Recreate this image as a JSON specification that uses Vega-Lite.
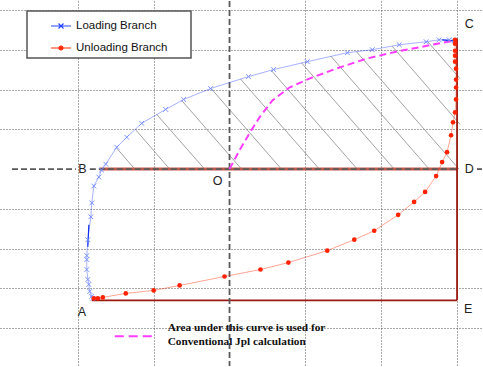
{
  "$schema": "https://vega.github.io/schema/vega-lite/v6.json",
  "width": 483,
  "height": 367,
  "autosize": {"type": "fit", "contains": "padding"},
  "padding": 0,
  "background": "#ffffff",
  "config": {"view": {"stroke": null}},
  "datasets": {
    "curves": [
      {"branch": "Loading Branch", "order": 1, "x": -1.803, "y": -3.25},
      {"branch": "Loading Branch", "order": 2, "x": -1.816, "y": -3.2},
      {"branch": "Loading Branch", "order": 3, "x": -1.842, "y": -3.075},
      {"branch": "Loading Branch", "order": 4, "x": -1.855, "y": -2.9},
      {"branch": "Loading Branch", "order": 5, "x": -1.868, "y": -2.775},
      {"branch": "Loading Branch", "order": 6, "x": -1.882, "y": -2.525},
      {"branch": "Loading Branch", "order": 7, "x": -1.882, "y": -2.275},
      {"branch": "Loading Branch", "order": 8, "x": -1.882, "y": -2.175},
      {"branch": "Loading Branch", "order": 9, "x": -1.868, "y": -1.775},
      {"branch": "Loading Branch", "order": 10, "x": -1.829, "y": -1.2},
      {"branch": "Loading Branch", "order": 11, "x": -1.816, "y": -0.85},
      {"branch": "Loading Branch", "order": 12, "x": -1.789, "y": -0.425},
      {"branch": "Loading Branch", "order": 13, "x": -1.724, "y": -0.2},
      {"branch": "Loading Branch", "order": 14, "x": -1.688, "y": -0.025},
      {"branch": "Loading Branch", "order": 15, "x": -1.632, "y": 0.125},
      {"branch": "Loading Branch", "order": 16, "x": -1.487, "y": 0.55},
      {"branch": "Loading Branch", "order": 17, "x": -1.355, "y": 0.8},
      {"branch": "Loading Branch", "order": 18, "x": -1.158, "y": 1.15},
      {"branch": "Loading Branch", "order": 19, "x": -0.842, "y": 1.5},
      {"branch": "Loading Branch", "order": 20, "x": -0.605, "y": 1.75},
      {"branch": "Loading Branch", "order": 21, "x": -0.25, "y": 2.025},
      {"branch": "Loading Branch", "order": 22, "x": 0.25, "y": 2.325},
      {"branch": "Loading Branch", "order": 23, "x": 0.579, "y": 2.5},
      {"branch": "Loading Branch", "order": 24, "x": 1.026, "y": 2.7},
      {"branch": "Loading Branch", "order": 25, "x": 1.553, "y": 2.925},
      {"branch": "Loading Branch", "order": 26, "x": 1.882, "y": 3.0},
      {"branch": "Loading Branch", "order": 27, "x": 2.237, "y": 3.125},
      {"branch": "Loading Branch", "order": 28, "x": 2.592, "y": 3.2},
      {"branch": "Loading Branch", "order": 29, "x": 2.763, "y": 3.25},
      {"branch": "Loading Branch", "order": 30, "x": 2.895, "y": 3.25},
      {"branch": "Loading Branch", "order": 31, "x": 2.96, "y": 3.225},
      {"branch": "Unloading Branch", "order": 1, "x": 2.974, "y": 3.25},
      {"branch": "Unloading Branch", "order": 2, "x": 2.974, "y": 3.15},
      {"branch": "Unloading Branch", "order": 3, "x": 2.974, "y": 2.975},
      {"branch": "Unloading Branch", "order": 4, "x": 2.974, "y": 2.85},
      {"branch": "Unloading Branch", "order": 5, "x": 2.974, "y": 2.7},
      {"branch": "Unloading Branch", "order": 6, "x": 2.987, "y": 2.525},
      {"branch": "Unloading Branch", "order": 7, "x": 2.987, "y": 2.25},
      {"branch": "Unloading Branch", "order": 8, "x": 2.987, "y": 2.05},
      {"branch": "Unloading Branch", "order": 9, "x": 2.987, "y": 1.75},
      {"branch": "Unloading Branch", "order": 10, "x": 2.974, "y": 1.425},
      {"branch": "Unloading Branch", "order": 11, "x": 2.947, "y": 1.175},
      {"branch": "Unloading Branch", "order": 12, "x": 2.921, "y": 0.85},
      {"branch": "Unloading Branch", "order": 13, "x": 2.868, "y": 0.425},
      {"branch": "Unloading Branch", "order": 14, "x": 2.803, "y": 0.175},
      {"branch": "Unloading Branch", "order": 15, "x": 2.724, "y": -0.175},
      {"branch": "Unloading Branch", "order": 16, "x": 2.579, "y": -0.575},
      {"branch": "Unloading Branch", "order": 17, "x": 2.434, "y": -0.825},
      {"branch": "Unloading Branch", "order": 18, "x": 2.224, "y": -1.15},
      {"branch": "Unloading Branch", "order": 19, "x": 1.908, "y": -1.55},
      {"branch": "Unloading Branch", "order": 20, "x": 1.645, "y": -1.775},
      {"branch": "Unloading Branch", "order": 21, "x": 1.289, "y": -2.05},
      {"branch": "Unloading Branch", "order": 22, "x": 0.776, "y": -2.35},
      {"branch": "Unloading Branch", "order": 23, "x": 0.408, "y": -2.525},
      {"branch": "Unloading Branch", "order": 24, "x": -0.066, "y": -2.7},
      {"branch": "Unloading Branch", "order": 25, "x": -0.658, "y": -2.925},
      {"branch": "Unloading Branch", "order": 26, "x": -1.0, "y": -3.05},
      {"branch": "Unloading Branch", "order": 27, "x": -1.368, "y": -3.125},
      {"branch": "Unloading Branch", "order": 28, "x": -1.671, "y": -3.225},
      {"branch": "Unloading Branch", "order": 29, "x": -1.737, "y": -3.25},
      {"branch": "Unloading Branch", "order": 30, "x": -1.789, "y": -3.25},
      {"branch": "Conventional", "order": 1, "x": 0.0, "y": 0.0},
      {"branch": "Conventional", "order": 2, "x": 0.132, "y": 0.475},
      {"branch": "Conventional", "order": 3, "x": 0.263, "y": 0.9},
      {"branch": "Conventional", "order": 4, "x": 0.395, "y": 1.3},
      {"branch": "Conventional", "order": 5, "x": 0.566, "y": 1.725},
      {"branch": "Conventional", "order": 6, "x": 0.789, "y": 2.05},
      {"branch": "Conventional", "order": 7, "x": 1.053, "y": 2.275},
      {"branch": "Conventional", "order": 8, "x": 1.408, "y": 2.525},
      {"branch": "Conventional", "order": 9, "x": 1.803, "y": 2.775},
      {"branch": "Conventional", "order": 10, "x": 2.197, "y": 2.95},
      {"branch": "Conventional", "order": 11, "x": 2.539, "y": 3.075},
      {"branch": "Conventional", "order": 12, "x": 2.803, "y": 3.175},
      {"branch": "Conventional", "order": 13, "x": 2.96, "y": 3.225}
    ],
    "segments": [
      {"kind": "hatch", "x": -1.487, "y": 0.525, "x2": -1.25, "y2": 0},
      {"kind": "hatch", "x": -1.243, "y": 1.0, "x2": -0.789, "y2": 0},
      {"kind": "hatch", "x": -0.961, "y": 1.375, "x2": -0.329, "y2": 0},
      {"kind": "hatch", "x": -0.625, "y": 1.7125, "x2": 0.158, "y2": 0},
      {"kind": "hatch", "x": -0.243, "y": 2.025, "x2": 0.684, "y2": 0},
      {"kind": "hatch", "x": 0.145, "y": 2.2625, "x2": 1.184, "y2": 0},
      {"kind": "hatch", "x": 0.553, "y": 2.475, "x2": 1.684, "y2": 0},
      {"kind": "hatch", "x": 0.947, "y": 2.675, "x2": 2.171, "y2": 0},
      {"kind": "hatch", "x": 1.336, "y": 2.8375, "x2": 2.632, "y2": 0},
      {"kind": "hatch", "x": 1.671, "y": 2.9575, "x2": 3.026, "y2": 0},
      {"kind": "hatch", "x": 2.145, "y": 3.0875, "x2": 3.039, "y2": 1.125},
      {"kind": "hatch", "x": 2.612, "y": 3.205, "x2": 3.039, "y2": 2.275},
      {"kind": "base", "x": -1.711, "y": 0, "x2": 3.0, "y2": 0},
      {"kind": "bound", "x": 3.0, "y": 3.275, "x2": 3.0, "y2": -3.3},
      {"kind": "bound", "x": -1.816, "y": -3.3, "x2": 3.0, "y2": -3.3},
      {"kind": "axis", "x": -2.868, "y": 0, "x2": -2.026, "y2": 0},
      {"kind": "axis", "x": -1.842, "y": 0, "x2": 3.0, "y2": 0},
      {"kind": "axis", "x": 3.263, "y": 0, "x2": 3.329, "y2": 0},
      {"kind": "axis", "x": 0, "y": 4.225, "x2": 0, "y2": -4.95},
      {"kind": "deep", "x": -1.855, "y": -1.4, "x2": -1.868, "y2": -1.95},
      {"kind": "deep", "x": 2.803, "y": 3.25, "x2": 2.947, "y2": 3.225},
      {"kind": "key", "x": -1.513, "y": -4.2, "x2": -1.0, "y2": -4.2}
    ],
    "labels": [
      {"kind": "point", "text": "A", "x": -1.947, "y": -3.6},
      {"kind": "point", "text": "B", "x": -1.941, "y": 0},
      {"kind": "point", "text": "C", "x": 3.16, "y": 3.65},
      {"kind": "point", "text": "D", "x": 3.16, "y": 0},
      {"kind": "point", "text": "E", "x": 3.145, "y": -3.525},
      {"kind": "point", "text": "O", "x": -0.158, "y": -0.3},
      {"kind": "note", "text": "Area under this curve is used for", "x": -0.816, "y": -4.0},
      {"kind": "note", "text": "Conventional Jpl calculation", "x": -0.816, "y": -4.35}
    ]
  },
  "encoding": {
    "x": {
      "field": "x",
      "type": "quantitative",
      "scale": {"domain": [-3.0263, 3.3289], "nice": false, "zero": false},
      "axis": {"values": [-2, -1, 1, 2, 3], "grid": true, "gridDash": [1, 2], "gridColor": "#555555", "gridWidth": 1, "labels": false, "ticks": false, "domain": false, "title": null}
    },
    "y": {
      "field": "y",
      "type": "quantitative",
      "scale": {"domain": [-4.95, 4.225], "nice": false, "zero": false},
      "axis": {"values": [-4, -3, -2, -1, 1, 2, 3, 4], "grid": true, "gridDash": [1, 2], "gridColor": "#555555", "gridWidth": 1, "labels": false, "ticks": false, "domain": false, "title": null}
    }
  },
  "layer": [
    {
      "data": {"name": "segments"},
      "transform": [{"filter": "datum.kind === 'hatch'"}],
      "mark": {"type": "rule", "color": "#8a8a8a", "strokeWidth": 0.8},
      "encoding": {"x2": {"field": "x2"}, "y2": {"field": "y2"}}
    },
    {
      "data": {"name": "segments"},
      "transform": [{"filter": "datum.kind === 'base'"}],
      "mark": {"type": "rule", "color": "#c0584c", "strokeWidth": 3},
      "encoding": {"x2": {"field": "x2"}, "y2": {"field": "y2"}}
    },
    {
      "data": {"name": "segments"},
      "transform": [{"filter": "datum.kind === 'bound'"}],
      "mark": {"type": "rule", "color": "#9a1a10", "strokeWidth": 1.8},
      "encoding": {"x2": {"field": "x2"}, "y2": {"field": "y2"}}
    },
    {
      "data": {"name": "segments"},
      "transform": [{"filter": "datum.kind === 'axis'"}],
      "mark": {"type": "rule", "color": "#5a5a5a", "strokeWidth": 1.8, "strokeDash": [6, 3]},
      "encoding": {"x2": {"field": "x2"}, "y2": {"field": "y2"}}
    },
    {
      "data": {"name": "curves"},
      "transform": [{"filter": "datum.branch !== 'Conventional'"}],
      "mark": {"type": "line", "strokeWidth": 1, "strokeOpacity": 0.42},
      "encoding": {
        "order": {"field": "order", "type": "quantitative"},
        "color": {
          "field": "branch",
          "type": "nominal",
          "scale": {"domain": ["Loading Branch", "Unloading Branch"], "range": ["#2a48ff", "#ff2a00"]},
          "legend": {
            "title": null,
            "orient": "none",
            "legendX": 27,
            "legendY": 10,
            "padding": 4,
            "rowPadding": 5,
            "symbolOffset": 19,
            "symbolSize": 400,
            "symbolStrokeWidth": 1.2,
            "symbolOpacity": 1,
            "labelFont": "Liberation Sans",
            "labelFontSize": 11.5,
            "labelColor": "#111111",
            "labelOffset": 4,
            "labelExpr": "datum.label + '\u00a0\u00a0\u00a0\u00a0\u00a0\u00a0\u200b'",
            "strokeColor": "#555555",
            "fillColor": "#ffffff",
            "encode": {
              "symbols": {
                "update": {
                  "shape": {"signal": "datum.value === 'Loading Branch' ? 'M-1,0H1M-0.25,-0.25L0.25,0.25M-0.25,0.25L0.25,-0.25' : 'M-1,0H1M-0.2,0A0.2,0.2 0 1,0 0.2,0A0.2,0.2 0 1,0 -0.2,0'"},
                  "fill": {"signal": "datum.value === 'Loading Branch' ? 'transparent' : '#ff2a00'"},
                  "strokeOpacity": {"value": 1}
                }
              },
              "legend": {"update": {"strokeWidth": {"value": 1.5}}}
            }
          }
        }
      }
    },
    {
      "data": {"name": "segments"},
      "transform": [{"filter": "datum.kind === 'deep'"}],
      "mark": {"type": "rule", "color": "#1030ee", "strokeWidth": 1.2},
      "encoding": {"x2": {"field": "x2"}, "y2": {"field": "y2"}}
    },
    {
      "data": {"name": "curves"},
      "transform": [{"filter": "datum.branch === 'Conventional'"}],
      "mark": {"type": "line", "color": "#ff3cff", "strokeWidth": 2, "strokeDash": [7, 4]},
      "encoding": {"order": {"field": "order", "type": "quantitative"}}
    },
    {
      "data": {"name": "segments"},
      "transform": [{"filter": "datum.kind === 'key'"}],
      "mark": {"type": "rule", "color": "#ff3cff", "strokeWidth": 2, "strokeDash": [9, 5]},
      "encoding": {"x2": {"field": "x2"}, "y2": {"field": "y2"}}
    },
    {
      "data": {"name": "curves"},
      "transform": [{"filter": "datum.branch === 'Loading Branch'"}],
      "mark": {"type": "point", "shape": "M-1,-1L1,1M-1,1L1,-1", "filled": false, "size": 22, "strokeWidth": 1, "color": "#7890ff", "opacity": 1}
    },
    {
      "data": {"name": "curves"},
      "transform": [{"filter": "datum.branch === 'Unloading Branch'"}],
      "mark": {"type": "point", "shape": "circle", "filled": true, "size": 22, "color": "#ff2200", "opacity": 1}
    },
    {
      "data": {"name": "labels"},
      "transform": [{"filter": "datum.kind === 'point'"}],
      "mark": {"type": "text", "font": "Liberation Sans", "fontSize": 12.5, "color": "#222222", "align": "center", "baseline": "middle"},
      "encoding": {"text": {"field": "text"}}
    },
    {
      "data": {"name": "labels"},
      "transform": [{"filter": "datum.kind === 'note'"}],
      "mark": {"type": "text", "font": "Liberation Serif", "fontSize": 11.3, "fontWeight": "bold", "color": "#111111", "align": "left", "baseline": "middle"},
      "encoding": {"text": {"field": "text"}}
    }
  ]
}
